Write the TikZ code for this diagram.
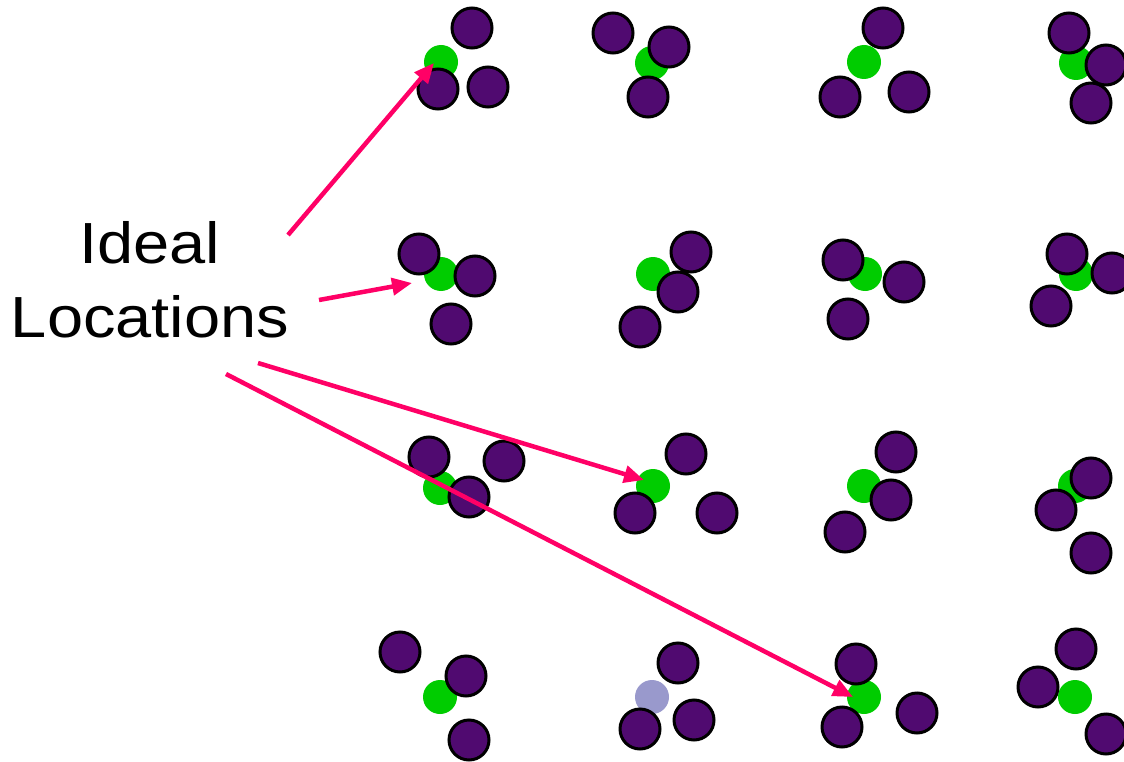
\documentclass[tikz,border=0pt]{standalone}
\usepackage{fontspec}
\setmainfont{Liberation Sans}
\usetikzlibrary{arrows.meta}
\definecolor{atom}{RGB}{80,10,112}
\definecolor{site}{RGB}{0,204,0}
\definecolor{vac}{RGB}{153,153,204}
\definecolor{pointer}{RGB}{255,0,102}
\tikzset{
  atomc/.style={circle,fill=atom,draw=black,line width=3pt,minimum size=40pt,inner sep=0pt},
  sitec/.style={circle,fill=site,minimum size=34pt,inner sep=0pt},
  vacc/.style={circle,fill=vac,minimum size=34pt,inner sep=0pt},
  ptr/.style={draw=pointer,line width=4.5pt,-{Triangle[length=20pt,width=17pt]}},
  lbl/.style={font=\fontsize{58}{74}\selectfont,align=center,inner sep=0pt}
}
\begin{document}
\begin{tikzpicture}[x=1pt,y=-1pt]
\useasboundingbox (0,0) rectangle (1124,762);
\clip (0,0) rectangle (1124,762);
% green ideal sites
\node[sitec] (g11) at (441,62) {};
\node[sitec] (g12) at (652,63) {};
\node[sitec] (g13) at (864,62) {};
\node[sitec] (g14) at (1076,63) {};
\node[sitec] (g21) at (441,274) {};
\node[sitec] (g22) at (653,274) {};
\node[sitec] (g23) at (865,274) {};
\node[sitec] (g24) at (1076,274) {};
\node[sitec] (g31) at (440,488) {};
\node[sitec] (g32) at (653,486) {};
\node[sitec] (g33) at (864,486) {};
\node[sitec] (g34) at (1075,486) {};
\node[sitec] (g41) at (440,697) {};
\node[vacc] (g42) at (652,697) {};
\node[sitec] (g43) at (864,697) {};
\node[sitec] (g44) at (1075,697) {};
% purple atoms, row 1
\node[atomc] (a11a) at (472,28) {};
\node[atomc] (a11b) at (438,89) {};
\node[atomc] (a11c) at (488,87) {};
\node[atomc] (a12a) at (613,33) {};
\node[atomc] (a12b) at (669,47) {};
\node[atomc] (a12c) at (648,97) {};
\node[atomc] (a13a) at (883,28) {};
\node[atomc] (a13b) at (840,97) {};
\node[atomc] (a13c) at (909,92) {};
\node[atomc] (a14a) at (1069,33) {};
\node[atomc] (a14b) at (1106,65) {};
\node[atomc] (a14c) at (1091,103) {};
% row 2
\node[atomc] (a21a) at (419,254) {};
\node[atomc] (a21b) at (475,276) {};
\node[atomc] (a21c) at (451,324) {};
\node[atomc] (a22a) at (691,252) {};
\node[atomc] (a22b) at (678,292) {};
\node[atomc] (a22c) at (640,327) {};
\node[atomc] (a23a) at (843,260) {};
\node[atomc] (a23b) at (904,282) {};
\node[atomc] (a23c) at (848,319) {};
\node[atomc] (a24a) at (1067,254) {};
\node[atomc] (a24b) at (1112,273) {};
\node[atomc] (a24c) at (1051,306) {};
% row 3
\node[atomc] (a31a) at (429,457) {};
\node[atomc] (a31b) at (469,497) {};
\node[atomc] (a31c) at (504,461) {};
\node[atomc] (a32a) at (686,454) {};
\node[atomc] (a32b) at (635,513) {};
\node[atomc] (a32c) at (717,513) {};
\node[atomc] (a33a) at (896,452) {};
\node[atomc] (a33b) at (891,500) {};
\node[atomc] (a33c) at (845,532) {};
\node[atomc] (a34a) at (1091,478) {};
\node[atomc] (a34b) at (1056,510) {};
\node[atomc] (a34c) at (1091,553) {};
% row 4
\node[atomc] (a41a) at (400,652) {};
\node[atomc] (a41b) at (466,676) {};
\node[atomc] (a41c) at (469,740) {};
\node[atomc] (a42a) at (678,663) {};
\node[atomc] (a42b) at (640,729) {};
\node[atomc] (a42c) at (694,720) {};
\node[atomc] (a43a) at (856,664) {};
\node[atomc] (a43b) at (842,727) {};
\node[atomc] (a43c) at (917,713) {};
\node[atomc] (a44a) at (1076,649) {};
\node[atomc] (a44b) at (1038,687) {};
\node[atomc] (a44c) at (1106,734) {};
% label
\node[lbl,xscale=1.12,transform shape] (lab) at (150,280) {Ideal\\Locations};
% arrow ends
\coordinate (s1) at (288,235);
\coordinate (s2) at (319,300);
\coordinate (s3) at (258,363);
\coordinate (s4) at (226,374);
\coordinate (t1) at (434,63);
\coordinate (t2) at (412,283);
\coordinate (t3) at (644,480);
\coordinate (t4) at (853,697);
\draw[ptr] (s1) -- (t1);
\draw[ptr] (s2) -- (t2);
\draw[ptr] (s3) -- (t3);
\draw[ptr] (s4) -- (t4);
\end{tikzpicture}
\end{document}
